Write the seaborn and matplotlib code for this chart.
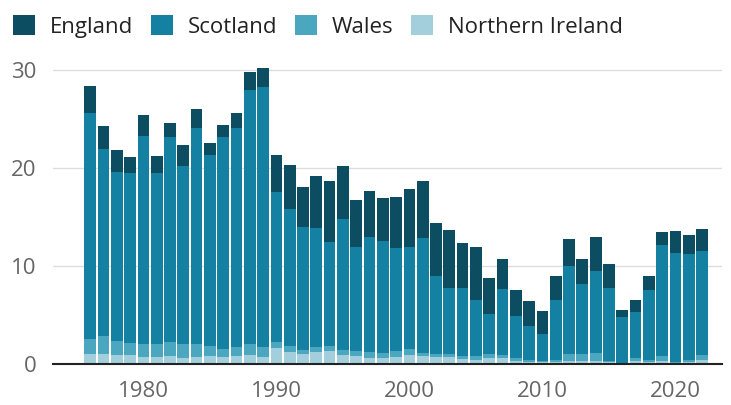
import matplotlib
matplotlib.use("Agg")
import matplotlib.pyplot as plt
from matplotlib.patches import Patch
import seaborn as sns
import pandas as pd

years = list(range(1976, 2023))
england = [2.7, 2.4, 2.2, 1.6, 2.1, 1.7, 1.5, 2.1, 1.9, 1.2, 1.3, 1.5, 1.9, 2.0,
           3.8, 4.5, 4.1, 5.25, 6.3, 5.4, 4.8, 4.7, 4.4, 5.2, 5.9, 5.9, 5.35, 5.9,
           4.6, 5.35, 3.65, 3.15, 2.6, 2.5, 2.3, 2.5, 2.7, 2.5, 3.4, 2.4, 0.7, 1.2,
           1.5, 1.4, 2.3, 2.0, 2.3]
scotland = [23.0, 19.0, 17.3, 17.4, 21.3, 17.5, 20.9, 18.2, 22.1, 19.5, 21.6, 22.4,
            25.9, 26.5, 15.3, 14.0, 12.6, 12.2, 10.6, 13.4, 10.55, 11.7, 11.4, 10.45,
            10.4, 11.65, 8.0, 6.8, 6.85, 5.75, 4.1, 6.7, 4.25, 3.5, 2.8, 6.1, 9.0, 7.2,
            8.4, 7.5, 4.7, 4.7, 7.05, 11.25, 11.1, 10.75, 10.55]
wales = [1.55, 1.9, 1.4, 1.2, 1.25, 1.25, 1.4, 1.4, 1.3, 1.0, 0.8, 0.9, 1.1, 0.95,
         0.6, 0.6, 0.4, 0.5, 0.5, 0.5, 0.5, 0.55, 0.5, 0.65, 0.6, 0.3, 0.3, 0.3,
         0.35, 0.4, 0.35, 0.3, 0.35, 0.15, 0.1, 0.15, 0.7, 0.7, 0.8, 0.1, 0.05, 0.3,
         0.25, 0.55, 0.1, 0.25, 0.55]
northern_ireland = [1.05, 1.0, 0.9, 0.9, 0.75, 0.75, 0.8, 0.6, 0.7, 0.8, 0.7, 0.8,
                    0.9, 0.75, 1.6, 1.2, 1.0, 1.2, 1.3, 0.9, 0.85, 0.65, 0.6, 0.7,
                    0.9, 0.85, 0.7, 0.7, 0.5, 0.4, 0.65, 0.6, 0.3, 0.25, 0.2, 0.25,
                    0.3, 0.3, 0.3, 0.2, 0.05, 0.3, 0.2, 0.3, 0.1, 0.2, 0.4]

countries = ["England", "Scotland", "Wales", "Northern Ireland"]
colors = ["#0d4d62", "#1581a2", "#4ba6c0", "#a3cfdd"]

rows = []
for name, vals in zip(countries, [england, scotland, wales, northern_ireland]):
    for y, v in zip(years, vals):
        rows.append({"year": y, "value": v, "country": name})
df = pd.DataFrame(rows)

sns.set_theme(style="white")
plt.rcParams['font.family'] = ['Open Sans', 'DejaVu Sans']

fig = plt.figure(figsize=(7.31, 4.05), dpi=100)
ax = fig.add_axes([53/731, 1-364/405, (722-53)/731, (364-60)/405])

sns.histplot(data=df, x="year", weights="value", hue="country",
             hue_order=countries, palette=colors, multiple="stack",
             discrete=True, shrink=0.88, linewidth=0, alpha=1,
             legend=False, ax=ax)

ax.set_xlim(1973.2, 2023.5)
ax.set_ylim(0, 31)
ax.set_yticks([0, 10, 20, 30])
ax.set_xticks([1980, 1990, 2000, 2010, 2020])
ax.yaxis.grid(True, color="#dddddd", linewidth=1)
ax.set_axisbelow(True)
for s in ["top", "right", "left"]:
    ax.spines[s].set_visible(False)
ax.spines["bottom"].set_color("#222222")
ax.spines["bottom"].set_linewidth(1.5)
ax.tick_params(axis="y", length=0, pad=12, labelsize=16, labelcolor="#666666")
ax.tick_params(axis="x", length=8, width=1, color="#222222", pad=4,
               labelsize=16, labelcolor="#666666")
ax.set_xlabel("")
ax.set_ylabel("")

handles = [Patch(facecolor=c, edgecolor="none") for c in colors]
fig.legend(handles, countries, loc="center left",
           bbox_to_anchor=(13/731, 1 - 26.5/405),
           ncol=4, frameon=False, fontsize=16, handlelength=1.0, handleheight=1.0,
           handletextpad=0.68, columnspacing=0.77, labelcolor="#222222",
           borderaxespad=0, borderpad=0)

fig.savefig("out.png", dpi=100)
